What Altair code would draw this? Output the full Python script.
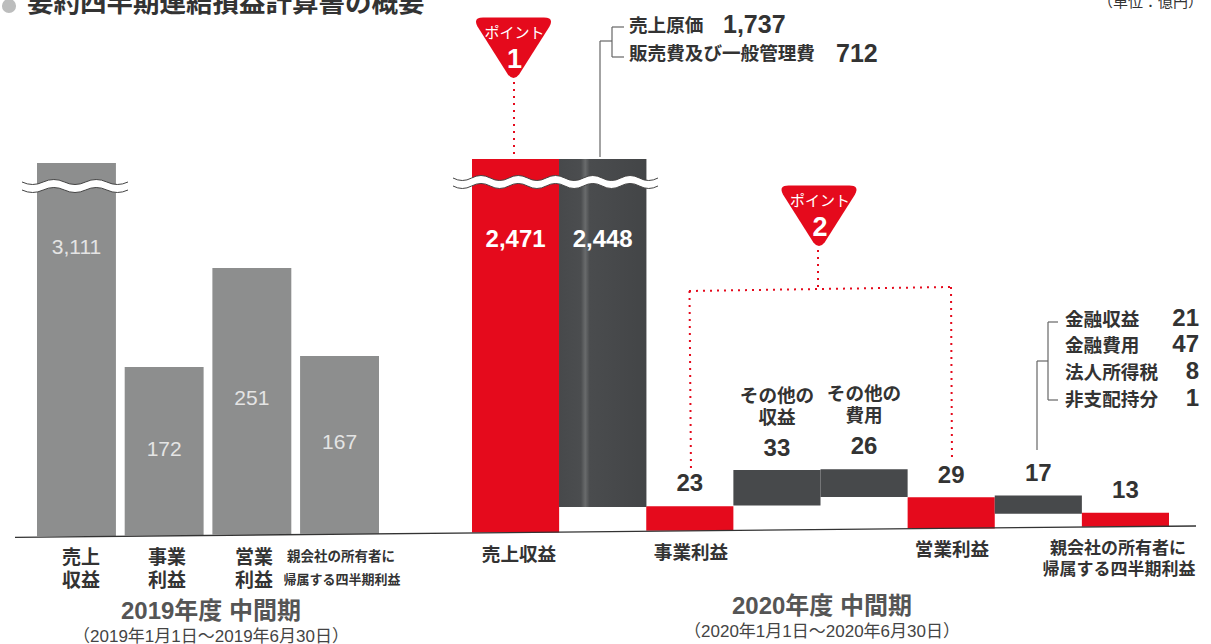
import altair as alt
import pandas as pd

# Half-year results in 100 million yen
left_names = ["売上収益", "事業利益", "営業利益", "親会社利益"]
left_values = [3111, 172, 251, 167]

right_names = ["売上収益", "原価・販管費", "事業利益", "その他の収益", "その他の費用", "営業利益", "金融損益等", "親会社利益"]
right_values = [2471, 2448, 23, 33, 26, 29, 17, 13]
right_floor = [0, 23, 0, 23, 30, 0, 13, 0]
right_tone = ["profit", "cost", "profit", "cost", "cost", "profit", "cost", "profit"]

# Pixel rows of the figures printed beside or inside the bars
left_label_rows = [248, 450, 399, 443]
right_label_rows = [240, 240, 484, 449, 447, 476, 474, 491]
right_label_colors = ["#ffffff", "#ffffff", "#333333", "#333333", "#333333", "#333333", "#333333", "#333333"]

RED = "#e50a1c"
DARK = "#47494b"
GRAY = "#8d8e8e"
INK = "#333333"
FONT = "Liberation Sans, Noto Sans CJK JP"
SKEW = 0.75  # the baseline climbs slightly from left to right, per slot

one = pd.DataFrame({"row": [0]})

# The printed heights of the left group follow this mapping, with the bar break above 251
left_y = alt.Scale(domain=[0, 167, 172, 251, 3111], range=[535, 356, 367, 268, 163], zero=False, nice=False)
right_y = alt.Scale(domain=[0, 100, 2471], range=[532.4, 425.4, 159], zero=False, nice=False)
left_x = alt.Scale(type="band", domain=left_names, range=[37, 379], paddingInner=0.1, paddingOuter=0)
right_x = alt.Scale(type="band", domain=right_names, range=[472, 1169], paddingInner=0, paddingOuter=0)

left_df = pd.DataFrame({"name": left_names, "value": left_values, "ly": left_label_rows})
left_df["top"] = left_df["value"]
left_df["bottom"] = [(i - 1.5) * SKEW for i in range(len(left_names))]
left_df["text"] = [f"{v:,}" for v in left_values]

right_df = pd.DataFrame({"name": right_names, "value": right_values, "floor": right_floor,
                         "tone": right_tone, "ly": right_label_rows, "lc": right_label_colors})
right_df["lift"] = [i * SKEW for i in range(len(right_names))]
right_df["top"] = right_df["value"] + right_df["floor"] + right_df["lift"]
right_df["bottom"] = right_df["floor"] + right_df["lift"]
right_df["text"] = [f"{v:,}" for v in right_values]


def note(text, x, y, size=18.6, weight="bold", color=INK, align="center", font=FONT):
    return alt.Chart(one).mark_text(text=text, fontSize=size, fontWeight=weight, color=color,
                                    align=align, baseline="middle", font=font).encode(
        x=alt.value(x), y=alt.value(y))


def stroke(x1, y1, x2, y2, color="#666666", width=1.2, dash=None):
    opts = dict(color=color, strokeWidth=width)
    if dash:
        opts["strokeDash"] = dash
    return alt.Chart(one).mark_rule(**opts).encode(
        x=alt.value(x1), x2=alt.value(x2), y=alt.value(y1), y2=alt.value(y2))


def wave_paths(width, gap=8.0, amp=5.0, half=18.0):
    unit = width / 2
    steps = int(width / half)
    h = 2 / steps
    top, bottom = -gap / 2 / unit, gap / 2 / unit
    a = amp / unit
    upper = f"M-1,{top:.4f}"
    lower = f"M-1,{bottom:.4f}"
    back = ""
    for i in range(steps):
        sign = -1 if i % 2 else 1
        x0, x1 = -1 + i * h, -1 + (i + 1) * h
        cx = (x0 + x1) / 2
        upper += f" Q{cx:.4f},{top + sign * a:.4f} {x1:.4f},{top:.4f}"
        lower += f" Q{cx:.4f},{bottom + sign * a:.4f} {x1:.4f},{bottom:.4f}"
    for i in reversed(range(steps)):
        sign = -1 if i % 2 else 1
        x0, x1 = -1 + i * h, -1 + (i + 1) * h
        cx = (x0 + x1) / 2
        back += f" Q{cx:.4f},{bottom + sign * a:.4f} {x0:.4f},{bottom:.4f}"
    band = upper + f" L1,{bottom:.4f}" + back + " Z"
    return band, upper + " " + lower


def wave(cx, cy, width):
    band, lines = wave_paths(width)
    fill = alt.Chart(one).mark_point(shape=band, size=width ** 2, filled=True, color="#ffffff", opacity=1).encode(
        x=alt.value(cx), y=alt.value(cy))
    edge = alt.Chart(one).mark_point(shape=lines, size=width ** 2, filled=False, color="#444444",
                                     strokeWidth=1, opacity=1).encode(x=alt.value(cx), y=alt.value(cy))
    return [fill, edge]


PIN = ("M-0.76,-0.76 L0.76,-0.76 Q1.02,-0.76 0.9,-0.54 L0.14,0.66 Q0,0.84 -0.14,0.66 "
       "L-0.9,-0.54 Q-1.02,-0.76 -0.76,-0.76 Z")


def pin(cx, cy, number):
    tri = alt.Chart(one).mark_point(shape=PIN, size=80 ** 2, filled=True, color=RED, opacity=1).encode(
        x=alt.value(cx), y=alt.value(cy))
    return [tri,
            note("ポイント", cx + 1, cy - 15, size=15, weight="normal", color="#ffffff"),
            note(number, cx + 1, cy + 12, size=27, color="#ffffff")]


layers = []

# Bars
layers.append(alt.Chart(left_df).mark_bar(color=GRAY).encode(
    x=alt.X("name:N", scale=left_x, axis=None),
    y=alt.Y("top:Q", scale=left_y, axis=None),
    y2="bottom:Q"))
layers.append(alt.Chart(right_df).mark_bar().encode(
    x=alt.X("name:N", scale=right_x, axis=None),
    y=alt.Y("top:Q", scale=right_y, axis=None),
    y2="bottom:Q",
    color=alt.Color("tone:N", scale=alt.Scale(domain=["profit", "cost"], range=[RED, DARK]), legend=None)))

# Lighter crease running down the tall cost bar
crease = alt.Gradient(gradient="linear", x1=0, x2=1, y1=0, y2=0, stops=[
    alt.GradientStop(offset=0, color=DARK),
    alt.GradientStop(offset=0.25, color="#4b4d4f"),
    alt.GradientStop(offset=0.3, color="#696b6c"),
    alt.GradientStop(offset=0.35, color="#4a4c4e"),
    alt.GradientStop(offset=1, color="#434547")])
layers.append(alt.Chart(right_df[right_df["name"] == right_names[1]]).mark_bar(color=crease).encode(
    x=alt.X("name:N", scale=right_x, axis=None),
    y=alt.Y("top:Q", scale=right_y, axis=None),
    y2="bottom:Q"))

# Break marks across the truncated bars
layers += wave(75, 186, 106)
layers += wave(555.5, 182, 205)

# Baseline, leaders and dotted pointers
layers.append(stroke(15, 537.3, 1196, 526, color="#333333", width=1.3))
layers += [
    stroke(600, 157, 600, 41),
    stroke(600, 41, 612, 41),
    stroke(612, 27, 612, 57),
    stroke(612, 27, 624, 27),
    stroke(612, 57, 624, 57),
    stroke(1037, 450, 1037, 361),
    stroke(1037, 361, 1048, 361),
    stroke(1048, 322, 1048, 400),
    stroke(1048, 322, 1058, 322),
    stroke(1048, 400, 1058, 400),
]
dots = [2, 5]
layers += [
    stroke(514, 82, 514, 157, color=RED, width=2, dash=dots),
    stroke(818, 250, 818, 289, color=RED, width=2, dash=dots),
    stroke(689, 291, 951, 287, color=RED, width=2, dash=dots),
    stroke(689.5, 291, 691, 473, color=RED, width=2, dash=dots),
    stroke(951, 287, 952, 462, color=RED, width=2, dash=dots),
]
layers += pin(513.5, 48, "1")
layers += pin(819, 216, "2")

# Figures on and above the bars
layers.append(alt.Chart(left_df).mark_text(fontSize=21, font=FONT, color="#e4e4e4", baseline="middle").encode(
    x=alt.X("name:N", scale=left_x, axis=None),
    y=alt.Y("ly:Q", scale=None),
    text="text:N"))
layers.append(alt.Chart(right_df).mark_text(fontSize=24, fontWeight="bold", font=FONT, baseline="middle").encode(
    x=alt.X("name:N", scale=right_x, axis=None),
    y=alt.Y("ly:Q", scale=None),
    text="text:N",
    color=alt.Color("lc:N", scale=None)))

# Heading and unit
layers.append(alt.Chart(one).mark_point(shape="circle", size=200, filled=True, color="#bcbdbd", opacity=1).encode(
    x=alt.value(9), y=alt.value(6)))
layers.append(note("要約四半期連結損益計算書の概要", 27, 4, size=26.5, align="left"))
layers.append(note("（単位：億円）", 1203, 2, size=15, weight="normal", align="right"))

# Cost breakdown callouts
layers += [
    note("売上原価", 629, 26, align="left"),
    note("1,737", 723, 25, size=25, align="left"),
    note("販売費及び一般管理費", 629, 54, align="left"),
    note("712", 836, 54, size=25, align="left"),
]
for label, val, row in [("金融収益", "21", 320), ("金融費用", "47", 346), ("法人所得税", "8", 373), ("非支配持分", "1", 400)]:
    layers.append(note(label, 1065, row, align="left"))
    layers.append(note(val, 1199, row - 1, size=24, align="right"))

# Labels above the other income and expense bars
layers += [
    note("その他の", 777, 396), note("収益", 777, 418),
    note("その他の", 864, 394), note("費用", 864, 416),
]

# Category labels
layers += [
    note("売上", 81, 558, size=19), note("収益", 81, 581, size=19),
    note("事業", 167, 558, size=19), note("利益", 167, 581, size=19),
    note("営業", 254, 558, size=19), note("利益", 254, 581, size=19),
    note("親会社の所有者に", 341, 557, size=13.5), note("帰属する四半期利益", 342, 580, size=13),
    note("売上収益", 519, 555),
    note("事業利益", 691, 553),
    note("営業利益", 952, 550),
    note("親会社の所有者に", 1118, 549, size=17), note("帰属する四半期利益", 1119, 570, size=17),
]

# Period captions
layers += [
    note("2019年度 中間期", 211, 612, size=24, color="#555555"),
    note("（2019年1月1日〜2019年6月30日）", 211, 637, size=17, weight="normal", color="#444444"),
    note("2020年度 中間期", 822, 607, size=24, color="#555555"),
    note("（2020年1月1日〜2020年6月30日）", 822, 632, size=17, weight="normal", color="#444444"),
]

chart = alt.layer(*layers).resolve_scale(x="independent", y="independent", color="independent").properties(
    width=1211, height=644, padding=0, background="#ffffff",
    autosize=alt.AutoSizeParams(type="none")
).configure_view(stroke=None)

chart.save("out.html", embed_options={"renderer": "svg", "actions": False})
